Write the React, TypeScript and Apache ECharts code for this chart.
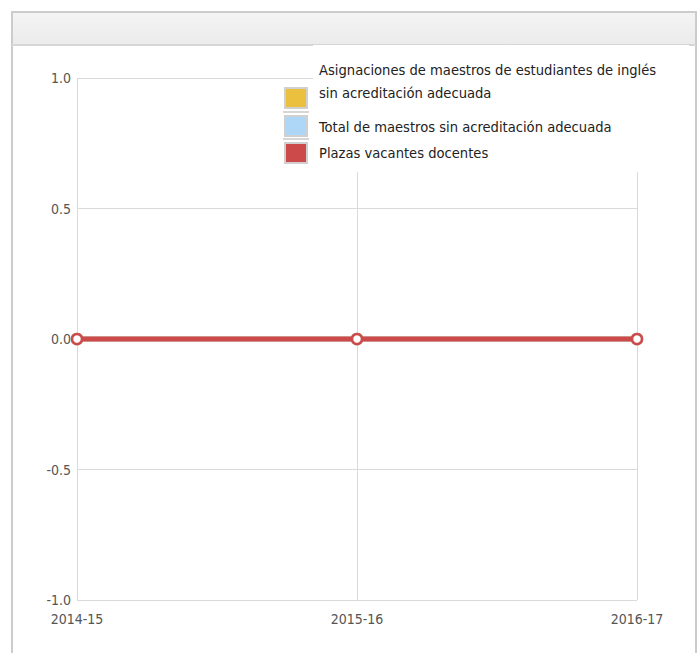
import React, { useEffect, useRef } from "react";
import * as echarts from "echarts";

const categories = ["2014-15", "2015-16", "2016-17"];
const seriesNames = [
  "Asignaciones de maestros de estudiantes de inglés\nsin acreditación adecuada",
  "Total de maestros sin acreditación adecuada",
  "Plazas vacantes docentes",
];
const englishLearnerAssignments = [0, 0, 0];
const totalMisassigned = [0, 0, 0];
const vacancies = [0, 0, 0];
const colors = ["#ebc03f", "#aed6f6", "#cc4a4a"];

const FONT = "'DejaVu Sans Condensed', 'DejaVu Sans', sans-serif";

export default function App() {
  const ref = useRef<HTMLDivElement>(null);
  useEffect(() => {
    if (!ref.current) return;
    const chart = echarts.init(ref.current, null, { renderer: "svg" });
    const values = [englishLearnerAssignments, totalMisassigned, vacancies];
    const legendTops = [88, 116, 143];
    const legendTextTops = [58, 115, 141];
    const legend: any[] = [];
    seriesNames.forEach((n, i) => {
      legend.push({
        type: "rect",
        shape: { x: 285, y: legendTops[i], width: 22, height: 20 },
        style: { fill: colors[i], stroke: "#d0d0d0", lineWidth: 2 },
        z: 20,
      });
      legend.push({
        type: "text",
        left: 319,
        top: legendTextTops[i],
        style: {
          text: n,
          font: `14.6px ${FONT}`,
          fill: "#222",
          lineHeight: 23,
        },
        z: 20,
      });
    });
    chart.setOption({
      animation: false,
      color: colors,
      grid: { left: 77, right: 62, top: 78, bottom: 53 },
      xAxis: {
        type: "category",
        data: categories,
        boundaryGap: false,
        axisLine: { show: false },
        axisTick: { show: false },
        splitLine: { show: true, lineStyle: { color: "#dadada", width: 1 } },
        axisLabel: {
          color: "#555",
          fontFamily: FONT,
          fontSize: 14,
          margin: 12,
          showMinLabel: true,
          showMaxLabel: true,
        },
      },
      yAxis: {
        type: "value",
        min: -1,
        max: 1,
        interval: 0.5,
        axisLine: { show: false },
        axisTick: { show: false },
        splitLine: { lineStyle: { color: "#dadada", width: 1 } },
        axisLabel: {
          color: "#555",
          fontFamily: FONT,
          fontSize: 14,
          margin: 6,
          formatter: (v: number) => v.toFixed(1),
        },
      },
      series: seriesNames.map((n, i) => ({
        name: n,
        type: "line",
        data: values[i],
        symbol: "circle",
        symbolSize: 10,
        itemStyle: { color: "#fff", borderColor: colors[i], borderWidth: 2.5 },
        lineStyle: {
          color: colors[i],
          width: 5,
        },
        z: 2 + i,
      })),
      graphic: [
        {
          type: "rect",
          shape: { x: 12, y: 12, width: 684, height: 33 },
          style: {
            fill: new echarts.graphic.LinearGradient(0, 0, 0, 1, [
              { offset: 0, color: "#f4f4f4" },
              { offset: 1, color: "#ebebeb" },
            ]),
          },
          z: 10,
        },
        {
          type: "polyline",
          shape: { points: [[12, 653], [12, 12], [696, 12], [696, 653]] },
          style: { fill: null, stroke: "#cccccc", lineWidth: 2 },
          z: 11,
        },
        {
          type: "line",
          shape: { x1: 12, y1: 45, x2: 696, y2: 45 },
          style: { stroke: "#d6d6d6", lineWidth: 2 },
          z: 11,
        },
        {
          type: "rect",
          shape: { x: 313, y: 45, width: 376, height: 127 },
          style: { fill: "#fff" },
          z: 15,
        },
        {
          type: "line",
          shape: { x1: 283, y1: 112, x2: 309, y2: 112 },
          style: { stroke: "#d6d6d6", lineWidth: 2 },
          z: 19,
        },
        {
          type: "line",
          shape: { x1: 283, y1: 139, x2: 309, y2: 139 },
          style: { stroke: "#d6d6d6", lineWidth: 2 },
          z: 19,
        },
        ...legend,
      ],
    });
    return () => chart.dispose();
  }, []);
  return <div ref={ref} style={{ width: 699, height: 653, position: "absolute", left: 0, top: 0 }} />;
}
